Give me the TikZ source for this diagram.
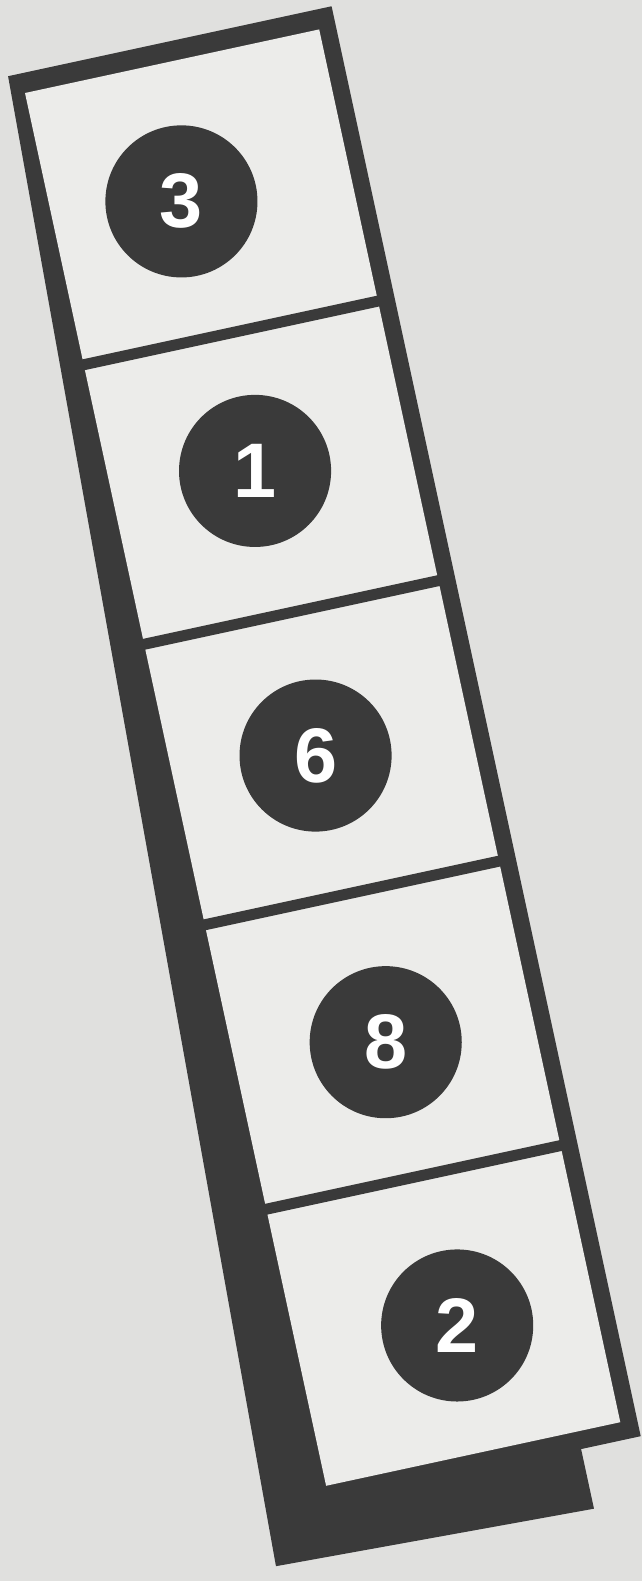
\documentclass[tikz,border=0pt]{standalone}
\usepackage{fontspec}
\newfontfamily\digitfont{Liberation Sans}
\usepackage{tikz}

\definecolor{paper}{RGB}{224,224,222}
\definecolor{cellpaper}{RGB}{236,236,234}
\definecolor{ink}{RGB}{58,58,58}

\begin{document}
\begin{tikzpicture}[x=0.01cm, y=-0.01cm,
    disc/.style={circle, fill=ink, text=white, inner sep=0pt,
      minimum size=1.52cm, font=\digitfont\bfseries\fontsize{22}{22}\selectfont}]
        % Parameters
        \def\tiltAngle{12.2}
        \def\cellW{301}
        \def\cellH{1425}

        % Sheet
        \useasboundingbox (0,0) rectangle (642,1581);
        \clip (0,0) rectangle (642,1581);
        \fill[paper] (0,0) rectangle (642,1581);

        % Tilted column
        \begin{scope}[shift={(25,93)}, rotate=\tiltAngle]
            % Frame, heavier on the left and at the foot
            \fill[ink] (-13,-20) -- (318,-20) -- (318,1443) -- (257,1443)
                -- (257,1504) -- (-66,1493) -- cycle;
            \fill[cellpaper] (0,0) rectangle (\cellW,\cellH);

            % Dividers
            \draw[ink, line width=0.11cm] (-4,278) -- (\cellW+4,278);
            \draw[ink, line width=0.11cm] (-4,564) -- (\cellW+4,564);
            \draw[ink, line width=0.11cm] (-4,851) -- (\cellW+4,851);
            \draw[ink, line width=0.11cm] (-4,1142) -- (\cellW+4,1142);

            % Numbered discs
            \node[disc] (disc3) at (130,139) {3};
            \node[disc] (disc1) at (145,418) {1};
            \node[disc] (disc6) at (144,709) {6};
            \node[disc] (disc8) at (152,1004) {8};
            \node[disc] (disc2) at (162,1296) {2};
        \end{scope}
    \end{tikzpicture}
\end{document}
